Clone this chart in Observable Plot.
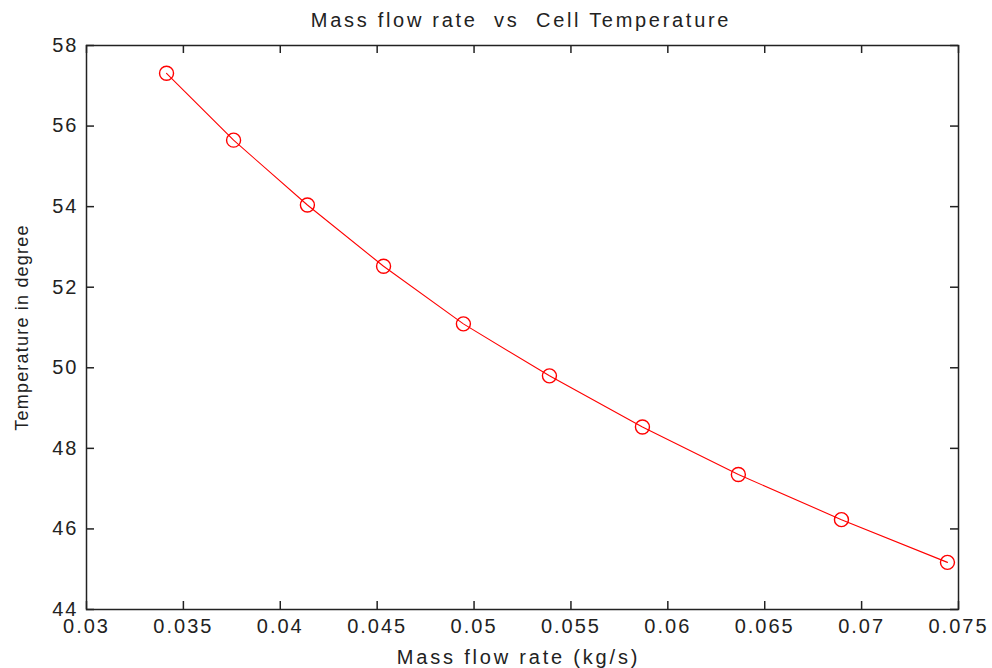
<!DOCTYPE html>
<html>
<head>
<meta charset="utf-8">
<script src="https://cdn.jsdelivr.net/npm/d3@7"></script>
<script src="https://cdn.jsdelivr.net/npm/@observablehq/plot@0.6"></script>
<style>
  html, body { margin: 0; padding: 0; background: #fff; }
  #title { width: 992px; height: 28px; line-height: 40px; overflow: visible; text-align: center; font-family: "Liberation Sans", Arial, sans-serif; font-size: 20px; letter-spacing: 2.7px; color: #222; padding-left: 50px; box-sizing: border-box; white-space: pre; }
  svg text { letter-spacing: 2px; }
  svg g.xlab text { letter-spacing: 2.8px; }
  svg g.ylab text { letter-spacing: 1.2px; }
</style>
</head>
<body>
<div id="title">Mass flow rate  vs  Cell Temperature</div>
<div id="chart"></div>
<script>
const massFlow = [0.03413, 0.03759, 0.0414, 0.04533, 0.04945, 0.05389, 0.05869, 0.06364, 0.06896, 0.07443];
const temperature = [57.31, 55.65, 54.04, 52.52, 51.09, 49.80, 48.53, 47.35, 46.23, 45.17];
const xTicks = [0.03, 0.035, 0.04, 0.045, 0.05, 0.055, 0.06, 0.065, 0.07, 0.075];
const yTicks = [44, 46, 48, 50, 52, 54, 56, 58];
const xLabel = "Mass flow rate (kg/s)";
const yLabel = "Temperature in degree";

const data = massFlow.map((x, i) => ({x, y: temperature[i]}));
const fmt = d => String(+d.toFixed(3));

const W = 992, H = 640, mL = 86, mR = 34, mT = 17, mB = 59;
const innerW = W - mL - mR, innerH = H - mT - mB, tk = 8;
const ink = "#222";

const chart = Plot.plot({
  width: W, height: H,
  marginLeft: mL, marginRight: mR, marginTop: mT, marginBottom: mB,
  x: {domain: [0.03, 0.075]},
  y: {domain: [44, 58]},
  style: {fontFamily: "'Liberation Sans', Arial, sans-serif", fontSize: "20px", color: ink, background: "transparent"},
  marks: [
    Plot.tickX(xTicks, {x: d => d, insetTop: innerH - tk, stroke: ink, strokeWidth: 1.5}),
    Plot.tickX(xTicks, {x: d => d, insetBottom: innerH - tk, stroke: ink, strokeWidth: 1.5}),
    Plot.tickY(yTicks, {y: d => d, insetRight: innerW - tk, stroke: ink, strokeWidth: 1.5}),
    Plot.tickY(yTicks, {y: d => d, insetLeft: innerW - tk, stroke: ink, strokeWidth: 1.5}),
    Plot.axisX(xTicks, {tickSize: 0, tickPadding: 9, tickFormat: fmt, label: null, fontSize: 20}),
    Plot.axisY(yTicks, {tickSize: 0, tickPadding: 8, label: null, fontSize: 20}),
    Plot.frame({stroke: ink, strokeWidth: 1.5}),
    Plot.line(data, {x: "x", y: "y", stroke: "#ff0000", strokeWidth: 1.1}),
    Plot.dot(data, {x: "x", y: "y", r: 7, stroke: "#ff0000", fill: "none", strokeWidth: 1.4}),
    Plot.text([xLabel], {frameAnchor: "bottom", dx: -4, dy: 48, textAnchor: "middle", lineAnchor: "middle", fontSize: 20, fill: ink, className: "xlab"}),
    Plot.text([yLabel], {frameAnchor: "left", dx: -64, rotate: -90, textAnchor: "middle", lineAnchor: "middle", fontSize: 18, fill: ink, className: "ylab"})
  ]
});
document.getElementById("chart").appendChild(chart);
</script>
</body>
</html>
